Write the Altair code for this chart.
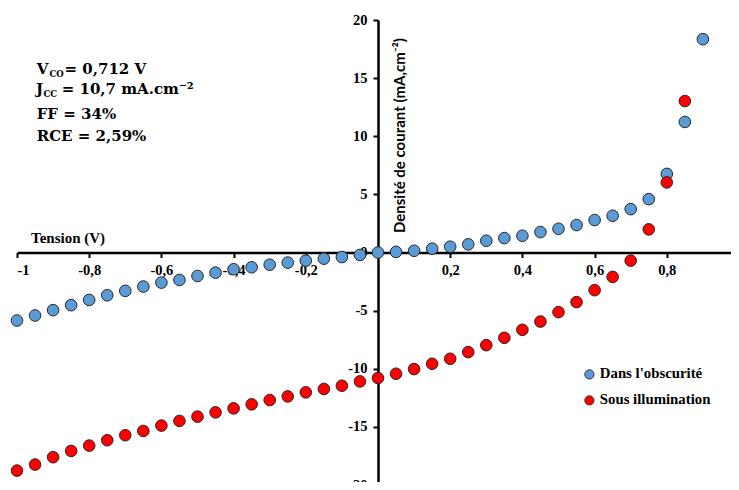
import altair as alt
import pandas as pd

# ---- data ----
tension_obscurite = [-1.0, -0.95, -0.9, -0.85, -0.8, -0.75, -0.7, -0.65, -0.6, -0.55,
                     -0.5, -0.45, -0.4, -0.35, -0.3, -0.25, -0.2, -0.15, -0.1, -0.05,
                     0.0, 0.05, 0.1, 0.15, 0.2, 0.25, 0.3, 0.35, 0.4, 0.45,
                     0.5, 0.55, 0.6, 0.65, 0.7, 0.75, 0.8, 0.85, 0.9]
densite_obscurite = [-5.85, -5.42, -4.96, -4.53, -4.08, -3.68, -3.30, -2.93, -2.59, -2.36,
                     -2.02, -1.73, -1.44, -1.27, -1.05, -0.87, -0.70, -0.53, -0.39, -0.21,
                     0.0, 0.05, 0.15, 0.33, 0.50, 0.70, 1.01, 1.24, 1.44, 1.76,
                     2.04, 2.36, 2.79, 3.16, 3.73, 4.59, 6.76, 11.23, 18.35]
tension_illumination = [-1.0, -0.95, -0.9, -0.85, -0.8, -0.75, -0.7, -0.65, -0.6, -0.55,
                        -0.5, -0.45, -0.4, -0.35, -0.3, -0.25, -0.2, -0.15, -0.1, -0.05,
                        0.0, 0.05, 0.1, 0.15, 0.2, 0.25, 0.3, 0.35, 0.4, 0.45,
                        0.5, 0.55, 0.6, 0.65, 0.7, 0.75, 0.8, 0.85]
densite_illumination = [-18.76, -18.24, -17.61, -17.07, -16.61, -16.15, -15.72, -15.35, -14.89, -14.49,
                        -14.12, -13.75, -13.41, -13.06, -12.69, -12.38, -12.03, -11.74, -11.46, -11.09,
                        -10.80, -10.43, -10.03, -9.57, -9.14, -8.57, -7.97, -7.34, -6.65, -5.94,
                        -5.13, -4.27, -3.24, -2.10, -0.70, 1.99, 6.03, 13.03]

series_names = ["Dans l'obscurité", "Sous illumination"]
series_colors = ["#5b9bd5", "#ff0000"]
x_ticks = [-1, -0.8, -0.6, -0.4, -0.2, 0, 0.2, 0.4, 0.6, 0.8, 1]
y_ticks = [-20, -15, -10, -5, 0, 5, 10, 15, 20]

df = pd.DataFrame({
    "tension": tension_obscurite + tension_illumination,
    "densite": densite_obscurite + densite_illumination,
    "serie": [series_names[0]] * len(tension_obscurite) + [series_names[1]] * len(tension_illumination),
})
one_row = pd.DataFrame({"k": [0]})

W, H = 714, 462          # drawn area (svg stays inside the window)
XR, YR = 722, 465        # scale ranges (extend past the window edge, as in the cropped reference)
SERIF = "Liberation Serif"
ANNOT = "DejaVu Serif"

points = alt.Chart(df).mark_circle(
    size=135, opacity=1, stroke="#262626", strokeWidth=1
).encode(
    x=alt.X("tension:Q",
            scale=alt.Scale(domain=[-1, 1], nice=False, zero=False, range=[0, XR]),
            axis=alt.Axis(values=x_ticks, offset=-(H - YR / 2), title=None,
                          labelExpr="datum.value == 0 ? '' : replace('' + datum.value, '.', ',')")),
    y=alt.Y("densite:Q",
            scale=alt.Scale(domain=[-20, 20], nice=False, range=[YR, 0]),
            axis=alt.Axis(values=y_ticks, offset=-XR / 2, title=None,
                          labelExpr="replace('' + datum.value, '.', ',')")),
    color=alt.Color("serie:N",
                    scale=alt.Scale(domain=series_names, range=series_colors),
                    legend=alt.Legend(title=None, orient="none", legendX=565, legendY=347,
                                      symbolType="circle", symbolSize=85, symbolOpacity=1,
                                      symbolStrokeColor="#333333", symbolStrokeWidth=1,
                                      labelFont=SERIF, labelFontSize=14.8, labelFontWeight="bold",
                                      labelColor="black", rowPadding=10, labelOffset=3)),
)

def txt(s, x, y, size, font=ANNOT, **kw):
    return alt.Chart(one_row).mark_text(
        text=s, font=font, fontWeight="bold", fontSize=size, color="black",
        align="left", **kw
    ).encode(x=alt.value(x), y=alt.value(y))

annot = [
    txt("V", 19.7, 53.5, 15, baseline="alphabetic"),
    txt("CO", 32.5, 56.5, 8.5, baseline="alphabetic"),
    txt("= 0,712 V", 47.5, 53.5, 15, baseline="alphabetic"),
    txt("J", 19.0, 74, 15, baseline="alphabetic"),
    txt("CC", 26.5, 77, 8.5, baseline="alphabetic"),
    txt("= 10,7 mA.cm⁻²", 44.7, 74, 15, baseline="alphabetic"),
    txt("FF = 34%", 19.7, 99, 15, baseline="alphabetic"),
    txt("RCE = 2,59%", 19.7, 121, 15, baseline="alphabetic"),
    txt("Tension (V)", 14, 223.3, 15, font=SERIF, baseline="alphabetic"),
    txt("Densité de courant (mA,cm⁻²)", 383, 213, 15, font="Lato", angle=270, baseline="middle"),
]

chart = alt.layer(points, *annot).properties(
    width=W, height=H,
    autosize=alt.AutoSizeParams(type="none"),
    padding={"left": 9, "top": 12, "right": 0, "bottom": 0},
).configure_view(stroke=None).configure_axis(
    grid=False, domainColor="black", domainWidth=2.5, tickColor="black", tickWidth=2,
    tickSize=5, labelFont=SERIF, labelFontWeight="bold", labelFontSize=14.5,
    labelColor="black", labelPadding=6,
)

chart.save("out.html", embed_options={"renderer": "svg", "actions": False})
